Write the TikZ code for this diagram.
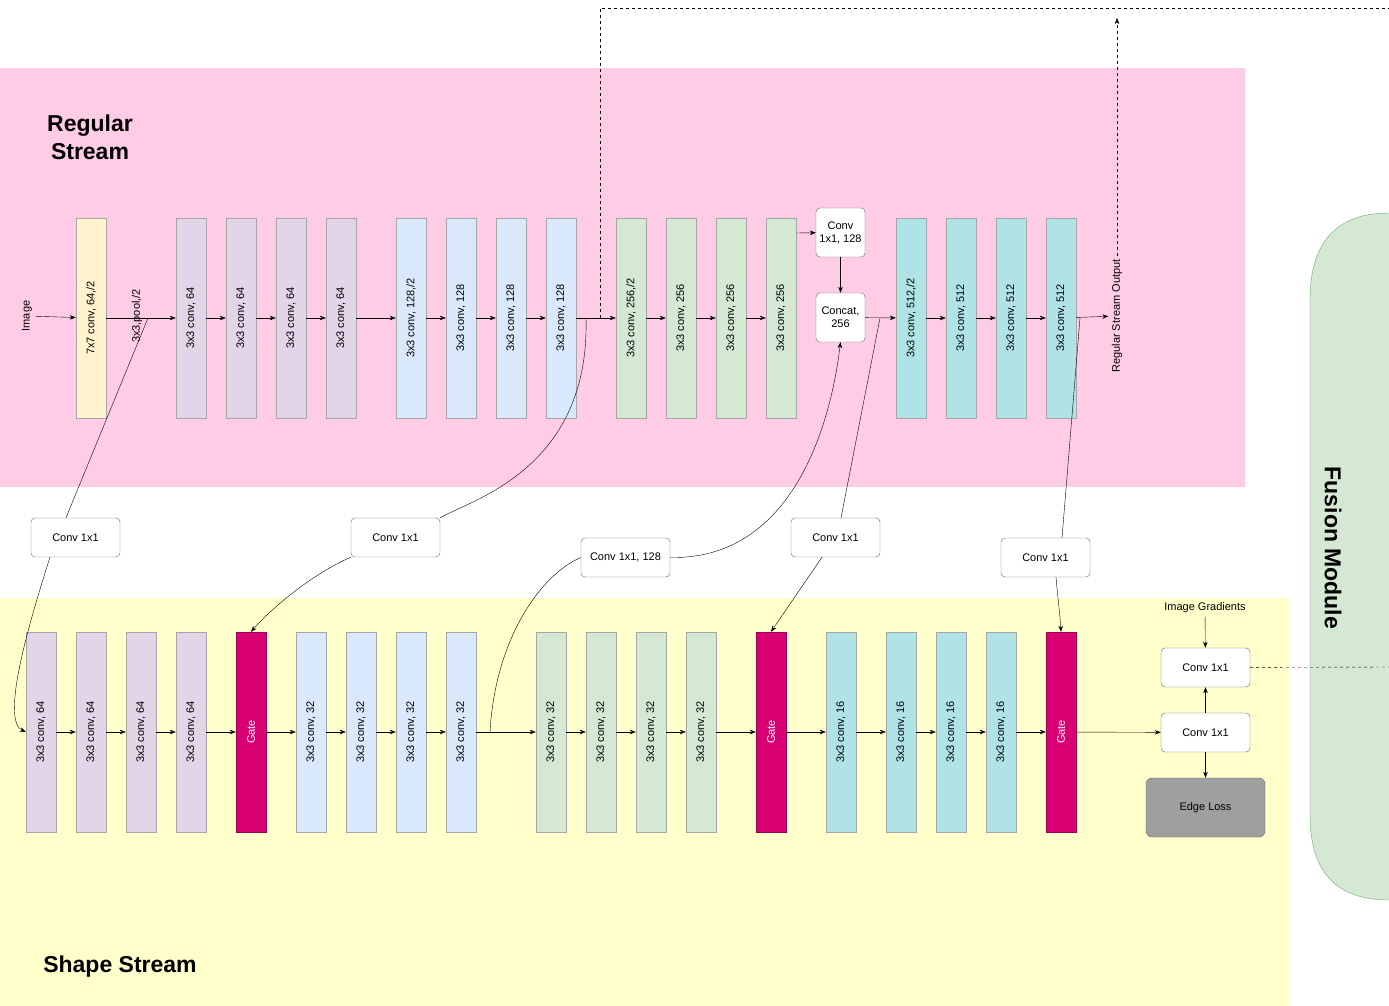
\documentclass[tikz,border=0pt]{standalone}
\usepackage{fontspec}
\setmainfont{Liberation Sans}
\usetikzlibrary{arrows.meta, positioning, shapes.misc}
\definecolor{pinkbg}{HTML}{FFCCE6}
\definecolor{yelbg}{HTML}{FFFFCC}
\definecolor{cyel}{HTML}{FFF2CC}
\definecolor{cpur}{HTML}{E1D5E7}
\definecolor{cblu}{HTML}{DAE8FC}
\definecolor{cgrn}{HTML}{D5E8D4}
\definecolor{cteal}{HTML}{B0E3E6}
\definecolor{cgate}{HTML}{D80073}
\tikzset{
  layer/.style={draw=gray!70, fill=#1, rotate=90, minimum width=200pt, minimum height=30pt,
    inner sep=0pt, font=\fontsize{11}{13}\selectfont},
  gate/.style={layer=cgate, draw=cgate!70!black, text=white},
  conv/.style={draw=gray!80!black, fill=white, rounded corners=4pt, minimum width=89pt,
    minimum height=39pt, font=\fontsize{11}{13}\selectfont, align=center}
}
\begin{document}
\begin{tikzpicture}[x=1pt,y=-1pt,>={Stealth[length=6pt]}]
\useasboundingbox (0,0) rectangle (1389,1006);
\fill[pinkbg] (0,68) rectangle (1245,487);
\fill[yelbg] (0,598) rectangle (1290,1006);
\draw[fill=cgrn, draw=green!45!black!60] (1389,213) .. controls (1330,213) and (1310,250) .. (1310,300)
  -- (1310,815) .. controls (1310,865) and (1330,900) .. (1389,900);
\node[rotate=-90, font=\bfseries\fontsize{23}{26}\selectfont] (fusion) at (1333,548) {Fusion Module};
\node[font=\bfseries\fontsize{23}{28}\selectfont, align=center] (rtitle) at (90,137) {Regular\\Stream};
\node[font=\bfseries\fontsize{23}{26}\selectfont] (stitle) at (120,967) {Shape Stream};
% regular stream
\node[rotate=90, font=\fontsize{11}{13}\selectfont] (img) at (27,316) {Image};
\node[layer=cyel] (r0) at (91,318) {7x7 conv, 64,/2};
\node[rotate=90, font=\fontsize{11}{13}\selectfont] (pool) at (137,316) {3x3,pool,/2};
\foreach \i/\x in {1/191,2/241,3/291,4/341} \node[layer=cpur] (r\i) at (\x,318) {3x3 conv, 64};
\node[layer=cblu] (r5) at (411,318) {3x3 conv, 128,/2};
\foreach \i/\x in {6/461,7/511,8/561} \node[layer=cblu] (r\i) at (\x,318) {3x3 conv, 128};
\node[layer=cgrn] (r9) at (631,318) {3x3 conv, 256,/2};
\foreach \i/\x in {10/681,11/731,12/781} \node[layer=cgrn] (r\i) at (\x,318) {3x3 conv, 256};
\node[layer=cteal] (r13) at (911,318) {3x3 conv, 512,/2};
\foreach \i/\x in {14/961,15/1011,16/1061} \node[layer=cteal] (r\i) at (\x,318) {3x3 conv, 512};
\node[conv, minimum width=49pt, minimum height=49pt, inner sep=1pt] (rc) at (840.5,232.5) {Conv\\1x1, 128};
\node[conv, minimum width=49pt, minimum height=49pt, inner sep=1pt] (cat) at (840.5,317.5) {Concat,\\256};
\node[rotate=90, font=\fontsize{11}{13}\selectfont] (rout) at (1117,316) {Regular Stream Output};
\coordinate (pout) at (148,318);
\coordinate (p2) at (586,318);
\coordinate (p3) at (880,318);
\coordinate (p4) at (1080,318);
\coordinate (p5) at (796,233);
\draw[->] (img) -- (r0);
\draw (r0) -- (pout);
\draw[->] (pout) -- (r1);
\foreach \a/\b in {1/2,2/3,3/4,4/5,5/6,6/7,7/8,8/9,9/10,10/11,11/12,13/14,14/15,15/16}
  \draw[->] (r\a) -- (r\b);
\draw[->] (p5) -- (rc);
\draw[->] (rc) -- (cat);
\draw[->] (cat) -- (r13);
\draw[->] (r16) -- (rout);
\draw[dashed] (600,318) -- (600,8) -- (1389,8);
\draw[dashed, ->] (rout.east) -- (1117,18);
% shape stream
\foreach \i/\x in {1/41,2/91,3/141,4/191} \node[layer=cpur] (s\i) at (\x,732) {3x3 conv, 64};
\node[gate] (g1) at (251,732) {Gate};
\foreach \i/\x in {5/311,6/361,7/411,8/461} \node[layer=cblu] (s\i) at (\x,732) {3x3 conv, 32};
\foreach \i/\x in {9/551,10/601,11/651,12/701} \node[layer=cgrn] (s\i) at (\x,732) {3x3 conv, 32};
\node[gate] (g2) at (771,732) {Gate};
\foreach \i/\x in {13/841,14/901,15/951,16/1001} \node[layer=cteal] (s\i) at (\x,732) {3x3 conv, 16};
\node[gate] (g3) at (1061,732) {Gate};
\node[conv] (ec1) at (1205.5,667.5) {Conv 1x1};
\node[conv] (ec2) at (1205.5,732.5) {Conv 1x1};
\node[conv, fill=gray!75, minimum width=119pt, minimum height=59pt, rounded corners=6pt] (loss) at (1205.5,807.5) {Edge Loss};
\node[font=\fontsize{11}{13}\selectfont] (grad) at (1205,608) {Image Gradients};
\coordinate (q2) at (490,732);
\foreach \a/\b in {1/2,2/3,3/4} \draw[->] (s\a) -- (s\b);
\draw[->] (s4) -- (g1);
\draw[->] (g1) -- (s5);
\foreach \a/\b in {5/6,6/7,7/8,9/10,10/11,11/12,13/14,14/15,15/16} \draw[->] (s\a) -- (s\b);
\draw (s8) -- (q2);
\draw[->] (q2) -- (s9);
\draw[->] (s12) -- (g2);
\draw[->] (g2) -- (s13);
\draw[->] (s16) -- (g3);
\draw[->] (g3) -- (ec2);
\draw[->] (grad) -- (ec1);
\draw[->] (ec2) -- (ec1);
\draw[->] (ec2) -- (loss);
\draw[dashed] (ec1) -- (1389,667);
% side convs
\node[conv] (c1) at (75.5,537.5) {Conv 1x1};
\node[conv] (c2) at (395.5,537.5) {Conv 1x1};
\node[conv] (c3) at (625.5,557.5) {Conv 1x1, 128};
\node[conv] (c4) at (835.5,537.5) {Conv 1x1};
\node[conv] (c5) at (1045.5,557.5) {Conv 1x1};
\draw (pout) -- (c1.north -| 66,0);
\draw[->] (c1.south -| 50,0) .. controls (30,620) and (0,720) .. (s1.north);
\draw (p2) .. controls (590,470) and (470,500) .. (c2.north east);
\draw[->] (c2.south west) .. controls (310,575) and (270,610) .. (g1.east);
\draw (q2) .. controls (495,640) and (540,575) .. (c3.west);
\draw[->] (c3.east) .. controls (790,560) and (830,430) .. (cat.south);
\draw (p3) -- (c4.north -| 841,0);
\draw[->] (c4.south -| 822,0) -- (g2.east);
\draw (p4) -- (c5.north -| 1062,0);
\draw[->] (c5.south -| 1056,0) .. controls (1058,600) and (1060,615) .. (g3.east);
\end{tikzpicture}
\end{document}
